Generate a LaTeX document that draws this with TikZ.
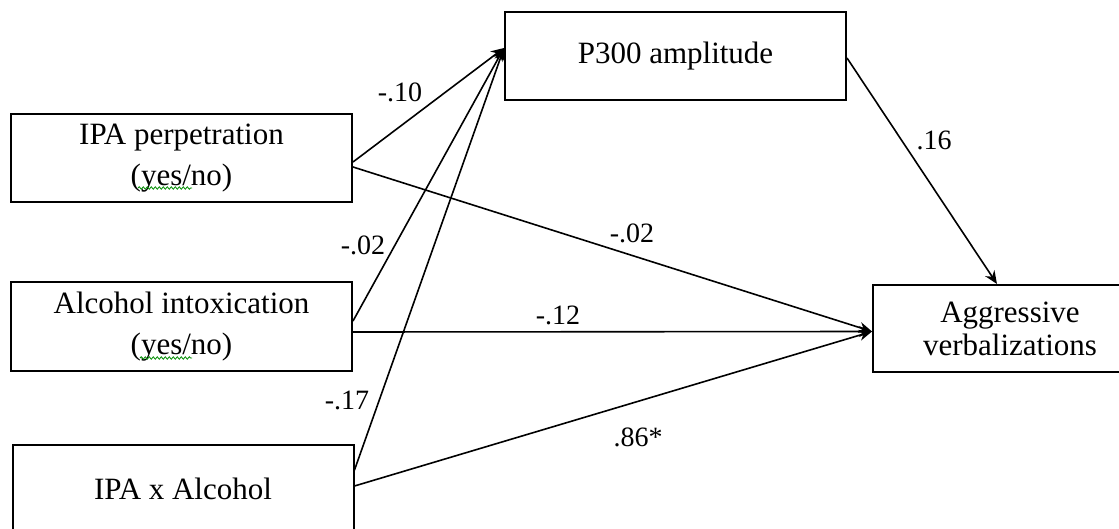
\documentclass[tikz,border=0pt]{standalone}
\usepackage{fontspec}
\setmainfont{Liberation Serif}
\usetikzlibrary{arrows.meta,positioning,decorations.pathmorphing}
\tikzset{
  caja/.style={rectangle, draw, line width=1pt, align=center,
               font=\fontsize{15.5}{20.5}\selectfont,
               minimum width=170.5pt, minimum height=44pt, inner sep=0pt},
  flecha/.style={-{Stealth[length=6.5pt,width=5.5pt]}, line width=0.8pt},
  coef/.style={font=\fontsize{14}{16}\selectfont, inner sep=1pt},
  ondita/.style={draw=green!55!black, line width=0.4pt,
                 decorate, decoration={snake, segment length=2pt, amplitude=0.6pt}}
}
\begin{document}
\begin{tikzpicture}[x=0.5pt,y=-0.5pt]
\useasboundingbox (0,0) rectangle (1119,529);
\clip (0,0) rectangle (1119,529);
\node[caja] (perp) at (181.5,158.5) {IPA perpetration\\ (yes/no)};
\node[caja] (alc) at (181.5,326.5) {Alcohol intoxication\\ (yes/no)};
\node[caja] (inter) at (183,489) {IPA x Alcohol};
\node[caja] (p300) at (675.5,56.5) {P300 amplitude};
\node[caja,minimum width=137pt,minimum height=43.5pt,
      font=\fontsize{15.5}{16.5}\selectfont] (aggr) at (1010,328.5) {Aggressive\\ verbalizations};

% spell-check marks under "yes"
\draw[ondita] ([xshift=-21.75pt,yshift=-14.75pt]perp.center) -- ++(27pt,0);
\draw[ondita] ([xshift=-20.75pt,yshift=-15.75pt]alc.center) -- ++(26pt,0);

\draw[flecha] ([yshift=-1.75pt]perp.east) -- ([yshift=4.25pt]p300.west);
\draw[flecha] ([yshift=2.75pt]alc.east) -- ([yshift=4.25pt]p300.west);
\draw[flecha] ([yshift=9.5pt]inter.east) -- ([yshift=4.25pt]p300.west);
\draw[flecha] ([yshift=-4.25pt]perp.east) -- ([yshift=-1.5pt]aggr.west);
\draw[flecha] ([yshift=-2.75pt]alc.east) -- ([yshift=-1.5pt]aggr.west);
\draw[flecha] ([yshift=1.5pt]inter.east) -- ([yshift=-1.5pt]aggr.west);
\draw[flecha] ([yshift=-0.75pt]p300.east) -- ([xshift=-6.5pt]aggr.north);

\node[coef] (c1) at (400,92) {-.10};
\node[coef] (c2) at (363,245) {-.02};
\node[coef] (c3) at (347,400) {-.17};
\node[coef] (c4) at (632,233) {-.02};
\node[coef] (c5) at (558,315) {-.12};
\node[coef] (c6) at (638,437) {.86*};
\node[coef] (c7) at (934,140) {.16};
\end{tikzpicture}
\end{document}
